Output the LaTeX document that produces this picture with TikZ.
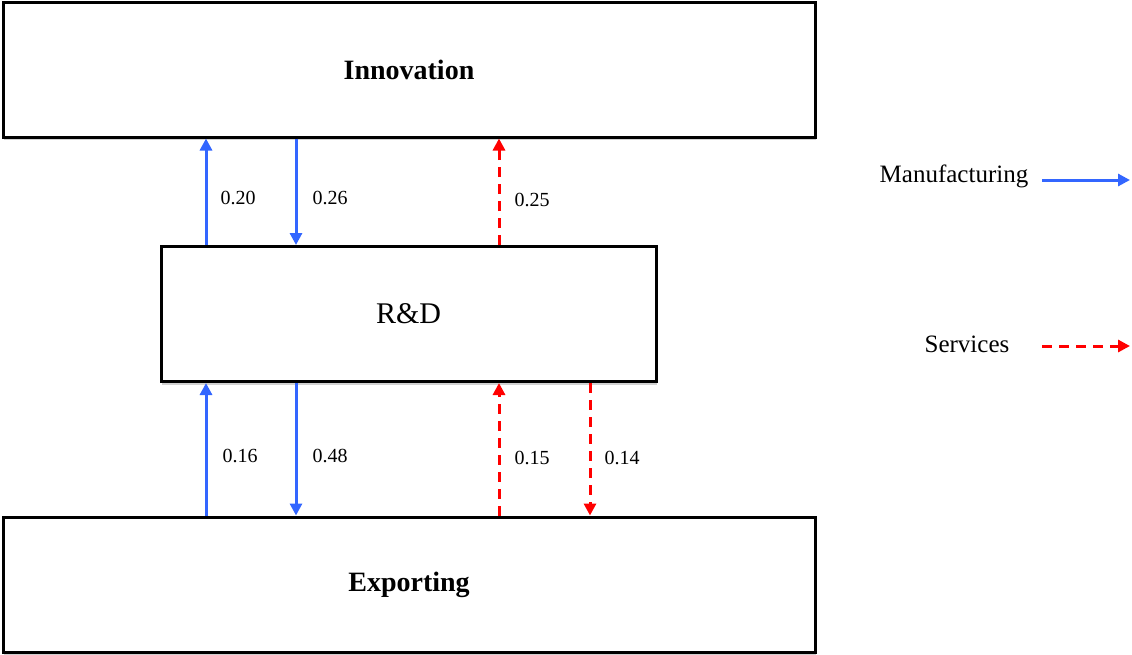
\documentclass[tikz,border=0pt]{standalone}
\usepackage{fontspec}
\setmainfont{Liberation Serif}
\usetikzlibrary{positioning, arrows.meta, shadows}

\definecolor{manublue}{RGB}{51,102,255}
\definecolor{servred}{RGB}{255,0,0}

\tikzset{
  box/.style={draw=black, line width=3pt, fill=white, minimum width=#1, minimum height=135pt,
    font=\fontsize{28}{32}\selectfont\bfseries,
    drop shadow={shadow xshift=1pt, shadow yshift=-3pt, fill=black!30, opacity=0.6}},
  manu/.style={manublue, line width=3pt, -{Triangle[length=12pt,width=12pt]}},
  serv/.style={servred, line width=3pt, dash pattern=on 10pt off 7pt, -{Triangle[length=12pt,width=12pt]}},
  coef/.style={font=\fontsize{20}{24}\selectfont},
  legtext/.style={font=\fontsize{25}{29}\selectfont}
}

\begin{document}
\begin{tikzpicture}[x=1pt, y=-1pt]
  \useasboundingbox (0,0) rectangle (1132,654);

  % Boxes
  \node[box=812pt] (inno) at (409,69.5) {Innovation};
  \node[box=495pt, font=\fontsize{30}{34}\selectfont] (rd) at (408.5,314) {R\&D};
  \node[box=812pt] (expo) at (409,584.5) {Exporting};

  % Columns of the arrows
  \coordinate (colA) at (206,0);
  \coordinate (colB) at (296,0);
  \coordinate (colC) at (499,0);
  \coordinate (colD) at (590,0);

  % R&D <-> Innovation
  \draw[manu] (rd.north -| colA) -- (inno.south -| colA);
  \draw[manu] (inno.south -| colB) -- (rd.north -| colB);
  \draw[serv] (rd.north -| colC) -- (inno.south -| colC);
  \node[coef] (c1) at (238,198) {0.20};
  \node[coef] (c2) at (330,198) {0.26};
  \node[coef] (c3) at (532,200) {0.25};

  % Exporting <-> R&D
  \draw[manu] (expo.north -| colA) -- (rd.south -| colA);
  \draw[manu] (rd.south -| colB) -- (expo.north -| colB);
  \draw[serv] (expo.north -| colC) -- (rd.south -| colC);
  \draw[serv] (rd.south -| colD) -- (expo.north -| colD);
  \node[coef] (c4) at (240,456) {0.16};
  \node[coef] (c5) at (330,456) {0.48};
  \node[coef] (c6) at (532,458) {0.15};
  \node[coef] (c7) at (622,458) {0.14};

  % Legend
  \node[legtext] (manlab) at (954,176) {Manufacturing};
  \coordinate (manA) at (1042,180);
  \coordinate (manB) at (1130,180);
  \draw[manu] (manA) -- (manB);
  \node[legtext] (servlab) at (967,344) {Services};
  \coordinate (servA) at (1042,346);
  \coordinate (servB) at (1130,346);
  \draw[serv] (servA) -- (servB);
\end{tikzpicture}
\end{document}
